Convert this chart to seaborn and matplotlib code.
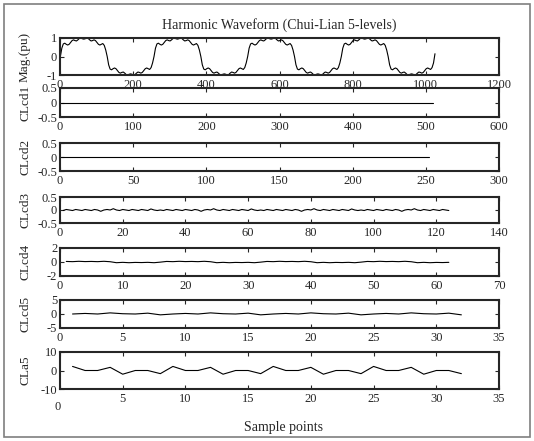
import numpy as np
import matplotlib
matplotlib.use("Agg")
import matplotlib.pyplot as plt
import seaborn as sns
from matplotlib.patches import Rectangle

# one period (256 samples, read every 4 samples) of the harmonic waveform
wave_period = [
    0.00, 0.45, 0.68, 0.72, 0.66, 0.62, 0.66, 0.76, 0.86, 0.90, 0.86, 0.84,
    0.90, 0.98, 1.00, 0.96, 0.94, 0.96, 1.00, 0.98, 0.90, 0.84, 0.86, 0.90,
    0.86, 0.76, 0.66, 0.62, 0.66, 0.70, 0.60, 0.35,
    0.00, -0.45, -0.68, -0.72, -0.66, -0.62, -0.66, -0.76, -0.86, -0.90, -0.86, -0.84,
    -0.90, -0.98, -1.00, -0.96, -0.94, -0.96, -1.00, -0.98, -0.90, -0.84, -0.86, -0.90,
    -0.86, -0.76, -0.66, -0.62, -0.66, -0.70, -0.60, -0.35,
]
wave = wave_period * 4 + [0.15]

cd1 = [0.0] * 510
cd2 = [0.0] * 252
cd3_period = [
    -0.02, 0.02, 0.00, -0.02, 0.02, 0.00, -0.02, 0.02, 0.00, -0.02, 0.02, 0.00,
    -0.05, 0.00, 0.02, 0.00, 0.05, 0.00, -0.02, 0.02, 0.00, -0.02, 0.02, 0.00,
    -0.02, 0.02, 0.00, -0.02, 0.04, 0.00, -0.02, 0.00,
]
cd3 = (cd3_period * 4)[:124]
cd4_period = [0.08, 0.05, 0.10, 0.06, 0.08, 0.05, 0.10, 0.04,
              -0.10, -0.05, -0.10, -0.06, -0.08, -0.05, -0.10, -0.02]
cd4 = (cd4_period * 4)[:62]
cd5_period = [0.0, 0.2, 0.0, 0.4, 0.1, 0.0, 0.3, -0.3]
cd5 = cd5_period * 4
a5_period = [2.2, 0.0, 0.0, 1.7, -2.0, 0.0, 0.0, -1.7]
a5 = a5_period * 4

panels = [
    ("Mag.(pu)", wave, 4, 1200, 200, 1),
    ("CLcd1", cd1, 1, 600, 100, 0.5),
    ("CLcd2", cd2, 1, 300, 50, 0.5),
    ("CLcd3", cd3, 1, 140, 20, 0.5),
    ("CLcd4", cd4, 1, 70, 10, 2),
    ("CLcd5", cd5, 1, 35, 5, 5),
    ("CLa5", a5, 1, 35, 5, 10),
]
# axes top / bottom in pixels
rows = [(38, 75), (88, 117), (143, 171), (197, 223), (248, 276), (300, 328), (352, 389)]

sns.set_style("ticks")
plt.rcParams["font.family"] = ["Liberation Serif", "DejaVu Serif"]
plt.rcParams["font.size"] = 9

W, H = 534, 441
fig = plt.figure(figsize=(W / 100, H / 100), dpi=100)
fig.patches.append(Rectangle((4 / W, 4 / H), 526 / W, 433 / H, transform=fig.transFigure,
                             fill=False, edgecolor="#7f7f7f", linewidth=1.2))
left, right = 60, 499

for (label, vals, step, xmax, xstep, ylim), (top, bot) in zip(panels, rows):
    ax = fig.add_axes([left / W, 1 - bot / H, (right - left) / W, (bot - top) / H])
    x = np.arange(len(vals)) * step + 1
    sns.lineplot(x=x, y=vals, ax=ax, color="black", linewidth=0.8)
    ax.set_xlim(0, xmax)
    ax.set_ylim(-ylim, ylim)
    ax.set_xticks(np.arange(0, xmax + 1, xstep))
    ax.set_yticks([-ylim, 0, ylim])
    ax.set_yticklabels([f"{v:g}" for v in [-ylim, 0, ylim]])
    ax.tick_params(axis="both", direction="in", length=3, width=0.8, top=True, right=True,
                   labelsize=9)
    ax.tick_params(axis="x", pad=3)
    ax.tick_params(axis="y", pad=2)
    for s in ax.spines.values():
        s.set_visible(True)
        s.set_linewidth(1.5)
    ax.set_ylabel(label, fontsize=9.5)
    ax.yaxis.set_label_coords(-0.066, 0.5)

# last panel: x tick "0" sits lower, as in the original
ax.set_xticklabels([""] + [f"{v:g}" for v in np.arange(5, 36, 5)])
fig.text(58 / W, 1 - 407 / H, "0", ha="center", va="center", fontsize=9)

fig.text((left + right) / 2 / W, 1 - 25 / H, "Harmonic Waveform (Chui-Lian 5-levels)",
         ha="center", va="center", fontsize=10)
fig.text(283 / W, 1 - 428 / H, "Sample points", ha="center", va="center", fontsize=10)

fig.savefig("out.png", dpi=100)
